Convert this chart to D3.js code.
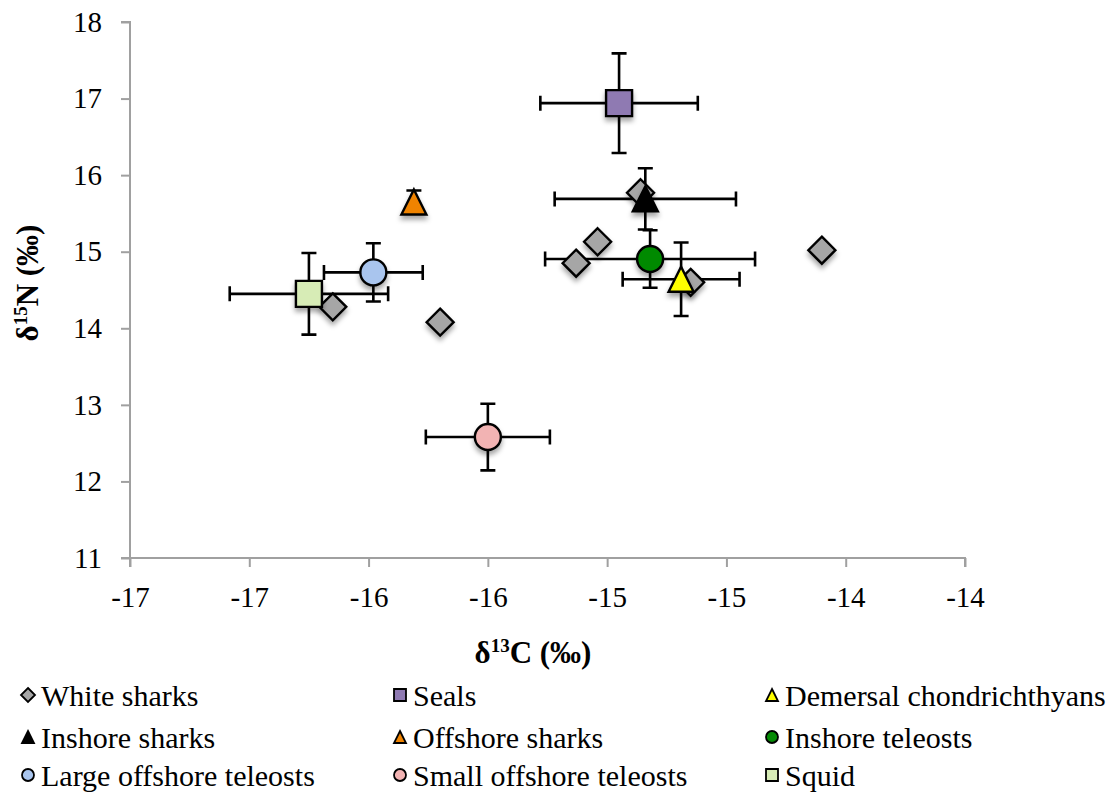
<!DOCTYPE html>
<html><head><meta charset="utf-8">
<script src="https://cdn.jsdelivr.net/npm/d3@7"></script>
<style>
html,body{margin:0;padding:0;background:#fff;}
</style></head>
<body>
<svg id="chart" width="1111" height="793"></svg>
<script>
// ---- data ----
const xTickValues = [-17, -16.5, -16, -15.5, -15, -14.5, -14, -13.5];
const xTickLabels = ["-17", "-17", "-16", "-16", "-15", "-15", "-14", "-14"];
const yTickValues = [11, 12, 13, 14, 15, 16, 17, 18];

const whiteSharksX = [-16.15, -15.70, -15.13, -15.04, -14.86, -14.65, -14.10];
const whiteSharksY = [14.28, 14.08, 14.85, 15.13, 15.77, 14.60, 15.02];

const groupNames = ["Seals", "Inshore sharks", "Demersal chondrichthyans", "Offshore sharks",
  "Inshore teleosts", "Large offshore teleosts", "Small offshore teleosts", "Squid"];
const groupX    = [-14.95, -14.84, -14.69, -15.81, -14.82, -15.98, -15.50, -16.25];
const groupY    = [16.94, 15.69, 14.64, 15.65, 14.905, 14.73, 12.58, 14.45];
const groupXErr = [0.33, 0.38, 0.245, 0, 0.44, 0.207, 0.26, 0.332];
const groupYErr = [0.65, 0.40, 0.48, 0.15, 0.375, 0.38, 0.435, 0.533];
const groupShape = ["square", "triangle", "triangle", "triangle", "circle", "circle", "circle", "square"];
const groupColor = ["#8f7ab2", "#000000", "#ffff00", "#ef8300", "#058a05", "#a9c5ee", "#f2b3b3", "#d7ecb6"];

const legendNames = ["White sharks", "Seals", "Demersal chondrichthyans",
  "Inshore sharks", "Offshore sharks", "Inshore teleosts",
  "Large offshore teleosts", "Small offshore teleosts", "Squid"];
const legendShape = ["diamond", "square", "triangle", "triangle", "triangle", "circle", "circle", "circle", "square"];
const legendColor = ["#a6a6a6", "#8f7ab2", "#ffff00", "#000000", "#ef8300", "#058a05", "#a9c5ee", "#f2b3b3", "#d7ecb6"];

// ---- layout ----
const FONT = "Liberation Serif, Times New Roman, serif";
const svg = d3.select("#chart");
const x = d3.scaleLinear().domain([-17, -13.5]).range([130, 965]);
const y = d3.scaleLinear().domain([11, 18]).range([558, 22]);

const defs = svg.append("defs");
const f = defs.append("filter").attr("id", "shadow").attr("x", "-50%").attr("y", "-50%").attr("width", "200%").attr("height", "200%");
f.append("feDropShadow").attr("dx", 0).attr("dy", 4).attr("stdDeviation", 2.5).attr("flood-color", "#000").attr("flood-opacity", 0.35);

// axes
const axisColor = "#a0a0a0";
const yAxis = svg.append("g").attr("transform", "translate(130,0)")
  .call(d3.axisLeft(y).tickValues(yTickValues).tickSize(9).tickPadding(19).tickFormat(d3.format("d")));
const xAxis = svg.append("g").attr("transform", "translate(0,558)")
  .call(d3.axisBottom(x).tickValues(xTickValues).tickSize(9).tickPadding(19)
    .tickFormat((d, i) => xTickLabels[i]));
[xAxis, yAxis].forEach(g => {
  g.attr("font-family", null).attr("font-size", null);
  g.select(".domain").attr("stroke", axisColor).attr("stroke-width", 2);
  g.selectAll(".tick line").attr("stroke", axisColor).attr("stroke-width", 2);
  g.selectAll(".tick text").attr("fill", "#000").style("font-family", FONT).style("font-size", "29px");
});
yAxis.select(".domain").attr("d", "M-9,22H0V558H-9");
xAxis.select(".domain").attr("d", "M130,9V0H965V9");

// axis titles
const xt = svg.append("text").attr("x", 533).attr("y", 663).attr("text-anchor", "middle")
  .style("font-family", FONT).style("font-size", "31px").style("font-weight", "bold");
xt.append("tspan").text("δ");
xt.append("tspan").text("13").style("font-size", "19px").attr("dy", -11);
xt.append("tspan").text("C (‰)").attr("dy", 11);

const yt = svg.append("text").attr("transform", "translate(38,283) rotate(-90)").attr("text-anchor", "middle")
  .style("font-family", FONT).style("font-size", "31px").style("font-weight", "bold");
yt.append("tspan").text("δ");
yt.append("tspan").text("15").style("font-size", "19px").attr("dy", -11);
yt.append("tspan").text("N (‰)").attr("dy", 11);

function markerPath(shape, s) {
  const h = s / 2;
  if (shape === "square") return `M${-h},${-h}H${h}V${h}H${-h}Z`;
  if (shape === "diamond") return `M0,${-h}L${h},0L0,${h}L${-h},0Z`;
  if (shape === "triangle") return `M0,${-h}L${h},${h}L${-h},${h}Z`;
  return null;
}
function drawMarker(g, shape, color, size, stroke) {
  if (shape === "circle") {
    return g.append("circle").attr("r", size / 2).attr("fill", color).attr("stroke", "#000").attr("stroke-width", stroke);
  }
  return g.append("path").attr("d", markerPath(shape, size)).attr("fill", color)
    .attr("stroke", "#000").attr("stroke-width", stroke).attr("stroke-linejoin", "miter");
}

// error bars
const cap = 7.5;
const eb = svg.append("g").attr("stroke", "#000").attr("stroke-width", 2.6).attr("fill", "none");
groupNames.forEach((n, i) => {
  const cx = x(groupX[i]), cy = y(groupY[i]);
  if (groupXErr[i] > 0) {
    const x0 = x(groupX[i] - groupXErr[i]), x1 = x(groupX[i] + groupXErr[i]);
    eb.append("path").attr("d", `M${x0},${cy}H${x1}M${x0},${cy - cap}V${cy + cap}M${x1},${cy - cap}V${cy + cap}`);
  }
  if (groupYErr[i] > 0) {
    const y0 = y(groupY[i] + groupYErr[i]), y1 = y(groupY[i] - groupYErr[i]);
    eb.append("path").attr("d", `M${cx},${y0}V${y1}M${cx - cap},${y0}H${cx + cap}M${cx - cap},${y1}H${cx + cap}`);
  }
});

// white sharks
const ws = svg.append("g").attr("filter", "url(#shadow)");
whiteSharksX.forEach((v, i) => {
  const g = ws.append("g").attr("transform", `translate(${x(v)},${y(whiteSharksY[i])})`);
  drawMarker(g, "diamond", "#a6a6a6", 27, 2.4);
});

// group means
const gm = svg.append("g").attr("filter", "url(#shadow)");
groupNames.forEach((n, i) => {
  const g = gm.append("g").attr("transform", `translate(${x(groupX[i])},${y(groupY[i])})`);
  const size = groupShape[i] === "triangle" ? 25 : 26;
  drawMarker(g, groupShape[i], groupColor[i], size, 2.4);
});

// legend
const colX = [28, 400, 772];
const rowBase = [706, 748, 786];
const lg = svg.append("g");
legendNames.forEach((n, i) => {
  const c = i % 3, r = Math.floor(i / 3);
  const g = lg.append("g").attr("transform", `translate(${colX[c]},${rowBase[r] - 11})`);
  drawMarker(g, legendShape[i], legendColor[i], legendShape[i] === "diamond" ? 14 : 12, 1.8);
  lg.append("text").attr("x", colX[c] + 13).attr("y", rowBase[r]).text(n)
    .style("font-family", FONT).style("font-size", "30px").attr("fill", "#000");
});
</script>
</body></html>
